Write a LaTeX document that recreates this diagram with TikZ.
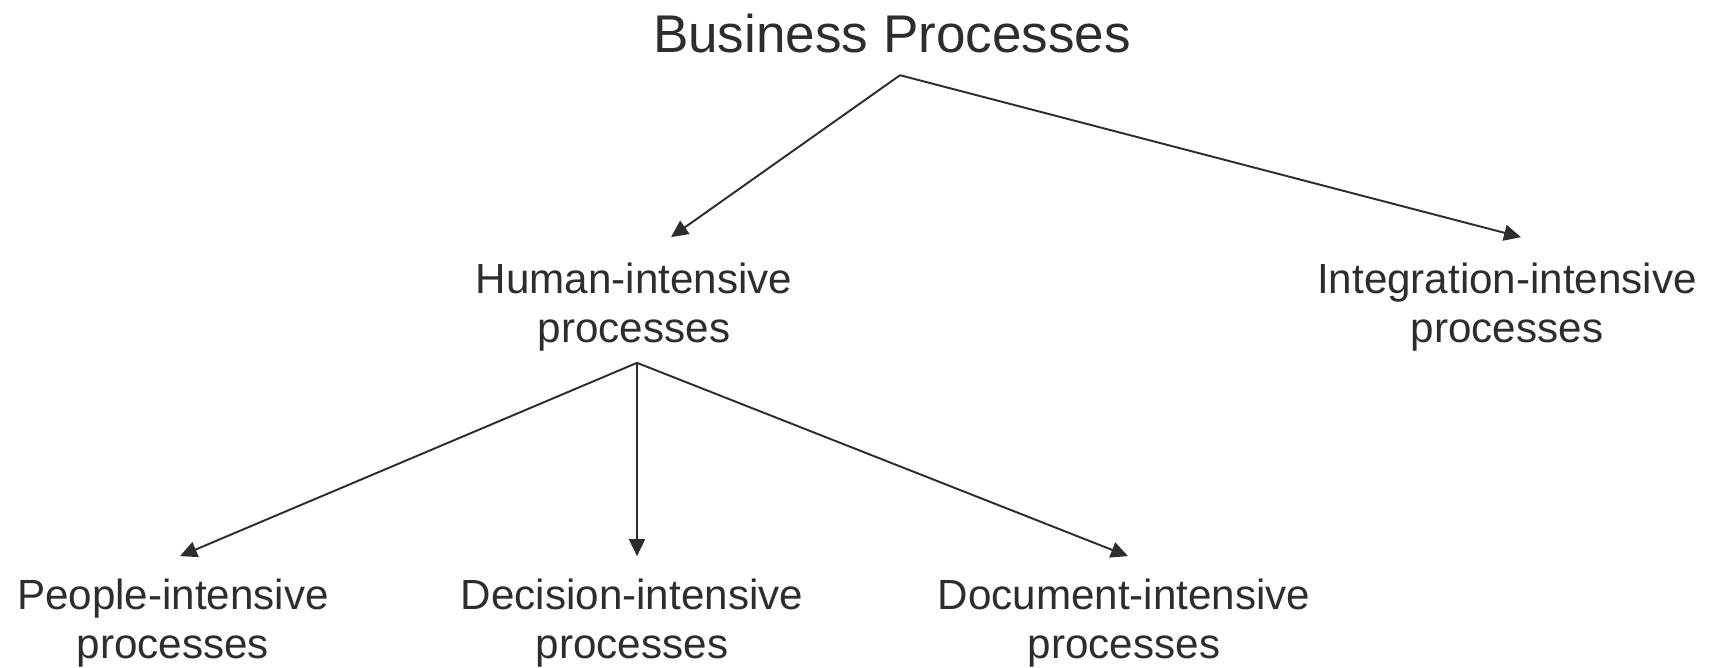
\documentclass[tikz,border=0pt]{standalone}
\usepackage{fontspec}
\setmainfont{Liberation Sans}
\usetikzlibrary{arrows.meta}
\definecolor{mygray}{RGB}{45,45,45}

\begin{document}
\begin{tikzpicture}[
    title/.style={font=\fontsize{15.1pt}{17.4pt}\selectfont, text=mygray, inner sep=0pt},
    lbl/.style={font=\fontsize{12pt}{13.94pt}\selectfont, text=mygray, align=center, inner sep=0pt},
    arr/.style={draw=mygray, line width=0.55pt, -{Triangle[length=0.17cm, width=0.16cm]}}
]
    \useasboundingbox (0, 0) rectangle (17.12, -6.68);
    % Root
    \node[title, anchor=base] (bp) at (8.92, -0.53) {Business Processes};
    \coordinate (bpfork) at ([shift={(0.08, -0.21)}]bp.south);
    % Second level
    \node[lbl] (hum) at (6.34, -3.07) {Human-intensive\\processes};
    \node[lbl] (int) at (15.07, -3.07) {Integration-intensive\\processes};
    \coordinate (humfork) at ([shift={(0.03, -0.11)}]hum.south);
    % Third level
    \node[lbl] (ppl) at (1.73, -6.23) {People-intensive\\processes};
    \node[lbl] (dec) at (6.32, -6.23) {Decision-intensive\\processes};
    \node[lbl] (doc) at (11.24, -6.23) {Document-intensive\\processes};
    % Arrows
    \draw[arr] (bpfork) -- ([shift={(0.37, 0.25)}]hum.north);
    \draw[arr] (bpfork) -- ([shift={(0.14, 0.25)}]int.north);
    \draw[arr] (humfork) -- ([shift={(0.07, 0.22)}]ppl.north);
    \draw[arr] (humfork) -- ([shift={(0.05, 0.22)}]dec.north);
    \draw[arr] (humfork) -- ([shift={(0.04, 0.22)}]doc.north);
\end{tikzpicture}
\end{document}
